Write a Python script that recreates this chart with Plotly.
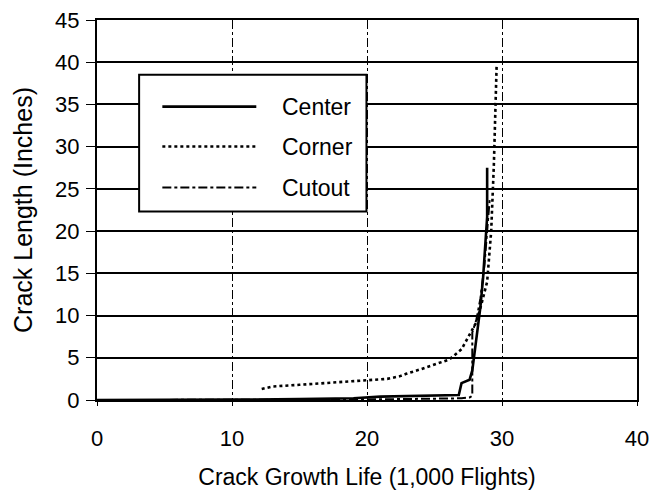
import plotly.graph_objects as go

# Data
center_x = [0, 5, 10, 15, 19, 21, 23, 25, 26.8, 27.0, 27.3, 27.6, 27.8, 28.0, 28.2, 28.4, 28.6, 28.8, 28.9, 28.9]
center_y = [0.0, 0.0, 0.05, 0.1, 0.2, 0.4, 0.5, 0.55, 0.6, 2.0, 2.2, 2.4, 3.5, 6.0, 8.5, 11.0, 14.5, 19.0, 21.7, 27.5]

corner_x = [12.2, 13, 15, 17, 19, 20.2, 21.5, 22.4, 22.9, 23.9, 24.6, 26.1, 27.0, 28.1, 28.5, 28.9, 29.2, 29.4, 29.6]
corner_y = [1.3, 1.6, 1.8, 2.0, 2.2, 2.3, 2.5, 2.8, 3.1, 3.6, 4.0, 4.8, 6.0, 9.2, 11.5, 14.0, 20.0, 28.0, 39.5]

cutout_x = [0, 5, 10, 15, 18.7, 22, 25, 27.0, 27.6, 27.8, 27.8, 28.1, 28.4, 28.7, 28.9, 29.1]
cutout_y = [0.0, 0.0, 0.0, 0.0, 0.05, 0.1, 0.15, 0.2, 0.3, 0.5, 8.0, 9.5, 12.0, 16.0, 20.0, 24.0]

x_ticks = [0, 10, 20, 30, 40]
y_ticks = [0, 5, 10, 15, 20, 25, 30, 35, 40, 45]

series = [
    ("Center", center_x, center_y, "solid", 2.6),
    ("Corner", corner_x, corner_y, "dot", 2.6),
    ("Cutout", cutout_x, cutout_y, "dashdot", 2.0),
]

fig = go.Figure()
for name, xs, ys, dash, w in series:
    fig.add_trace(go.Scatter(x=xs, y=ys, mode="lines", name=name,
                             line=dict(color="black", width=w, dash=dash),
                             showlegend=False))

font = dict(family="Liberation Sans, Arial, sans-serif", color="black")

fig.update_layout(
    width=652, height=496,
    margin=dict(l=97, r=15, t=20, b=96),
    paper_bgcolor="white", plot_bgcolor="white",
    font=dict(size=22, **font),
    showlegend=False,
)
fig.update_xaxes(
    range=[0, 40], tickvals=x_ticks, ticks="outside", ticklen=4, tickcolor="black",
    ticklabelstandoff=14, automargin=False,
    showgrid=True, gridcolor="black", gridwidth=1, griddash="dashdot",
    showline=True, linecolor="black", linewidth=2, mirror=True,
    zeroline=False, tickfont=dict(size=22, **font),
    title=dict(text="Crack Growth Life (1,000 Flights)", font=dict(size=23, **font), standoff=18),
)
fig.update_yaxes(
    range=[0, 45], tickvals=y_ticks, ticks="outside", ticklen=9, tickcolor="black",
    ticklabelstandoff=2, automargin=False,
    showgrid=True, gridcolor="black", gridwidth=2,
    showline=True, linecolor="black", linewidth=2, mirror=True,
    zeroline=False, tickfont=dict(size=22, **font),
    title=dict(text="Crack Length (Inches)", font=dict(size=25, **font), standoff=15),
)

# Manual legend (long line samples like the reference)
fig.add_shape(type="rect", xref="paper", yref="paper", x0=0.078, x1=0.499, y0=0.496, y1=0.856,
              line=dict(color="black", width=2), fillcolor="white", layer="above")
leg_y = [0.772, 0.667, 0.559]
for (name, xs, ys, dash, w), ly in zip(series, leg_y):
    fig.add_shape(type="line", xref="paper", yref="paper", x0=0.121, x1=0.295, y0=ly, y1=ly,
                  line=dict(color="black", width=w, dash=dash), layer="above")
    fig.add_annotation(xref="paper", yref="paper", x=0.338, y=ly, text=name, showarrow=False,
                       xanchor="left", yanchor="middle", font=dict(size=23, **font))

fig.write_html("out.html", config={"displayModeBar": False},
               post_script="document.body.style.margin='0px';")
